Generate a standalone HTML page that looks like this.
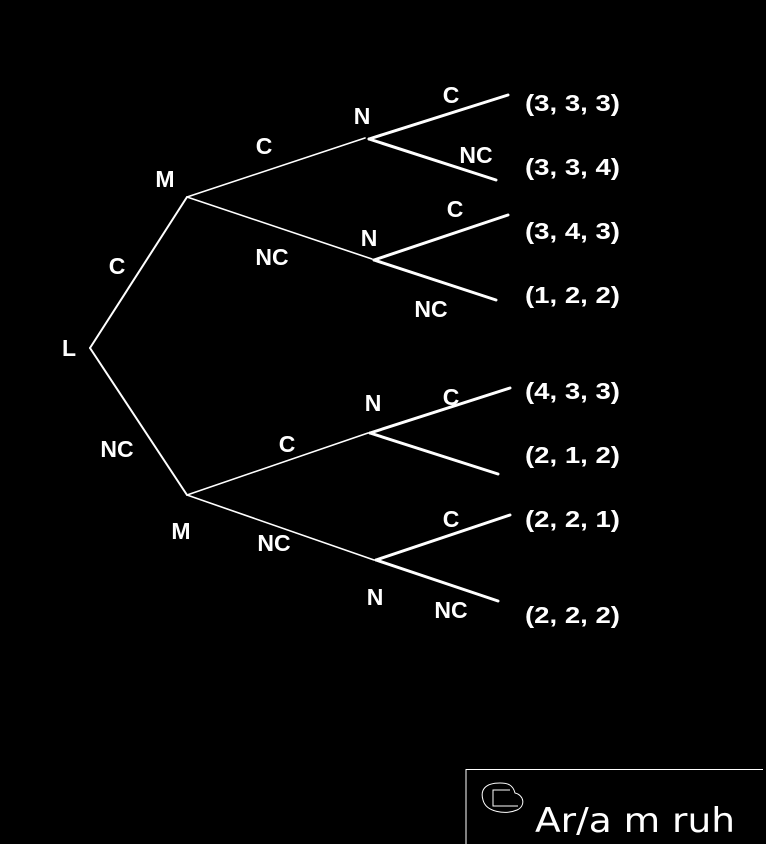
<!DOCTYPE html>
<html><head><meta charset="utf-8"><style>
html,body{margin:0;padding:0;background:#000;}
svg{display:block;}
text{font-family:"Liberation Sans",sans-serif;font-weight:bold;font-size:23px;fill:#fff;}
</style></head><body>
<svg width="766" height="844" viewBox="0 0 766 844">
<rect width="766" height="844" fill="#000"/>
<g stroke="#fff" fill="none" stroke-linecap="round">
<line x1="90" y1="348" x2="187" y2="197" stroke-width="2"/>
<line x1="90" y1="348" x2="187" y2="495" stroke-width="2"/>
<line x1="187" y1="197" x2="365" y2="138" stroke-width="1.6"/>
<line x1="187" y1="197" x2="372" y2="259" stroke-width="1.6"/>
<line x1="187" y1="495" x2="368" y2="433" stroke-width="1.6"/>
<line x1="187" y1="495" x2="374" y2="560" stroke-width="1.6"/>
<g stroke-width="3">
<line x1="369" y1="139" x2="508" y2="95"/>
<line x1="369" y1="139" x2="496" y2="180"/>
<line x1="374" y1="260" x2="508" y2="215"/>
<line x1="374" y1="260" x2="496" y2="300"/>
<line x1="370" y1="433" x2="510" y2="388"/>
<line x1="370" y1="433" x2="498" y2="474"/>
<line x1="376" y1="560" x2="510" y2="515"/>
<line x1="376" y1="560" x2="498" y2="601"/>
</g>
</g>
<g text-anchor="middle" dominant-baseline="central" style="font-size:24px">
<text x="69" y="348">L</text>
<text x="165" y="179">M</text>
<text x="181" y="531">M</text>
<text x="117" y="266">C</text>
<text x="117" y="449">NC</text>
<text x="264" y="146">C</text>
<text x="272" y="257">NC</text>
<text x="287" y="444">C</text>
<text x="274" y="543">NC</text>
<text x="362" y="116">N</text>
<text x="369" y="238">N</text>
<text x="373" y="403">N</text>
<text x="375" y="597">N</text>
<text x="451" y="95">C</text>
<text x="476" y="155">NC</text>
<text x="455" y="209">C</text>
<text x="431" y="309">NC</text>
<text x="451" y="397">C</text>
<text x="451" y="519">C</text>
<text x="451" y="610">NC</text>
</g>
<g dominant-baseline="central" style="font-size:27px">
<text x="525" y="103" textLength="95" lengthAdjust="spacingAndGlyphs">(3, 3, 3)</text>
<text x="525" y="167" textLength="95" lengthAdjust="spacingAndGlyphs">(3, 3, 4)</text>
<text x="525" y="231" textLength="95" lengthAdjust="spacingAndGlyphs">(3, 4, 3)</text>
<text x="525" y="295" textLength="95" lengthAdjust="spacingAndGlyphs">(1, 2, 2)</text>
<text x="525" y="391" textLength="95" lengthAdjust="spacingAndGlyphs">(4, 3, 3)</text>
<text x="525" y="455" textLength="95" lengthAdjust="spacingAndGlyphs">(2, 1, 2)</text>
<text x="525" y="519" textLength="95" lengthAdjust="spacingAndGlyphs">(2, 2, 1)</text>
<text x="525" y="615" textLength="95" lengthAdjust="spacingAndGlyphs">(2, 2, 2)</text>
</g>
<g>
<path d="M466 844 V769.5 H763" stroke="#fff" stroke-width="1" fill="none"/>
<path d="M500 783 C485 783 480 790 483 800 C486 812 505 815 517 810 C526 806 524 795 515 793 C513 785 508 783 500 783 Z" stroke="#fff" fill="none" stroke-width="1"/>
<path d="M510 790 H493 V806 H518" stroke="#fff" fill="none" stroke-width="1"/>
<text x="535" y="832" textLength="200" lengthAdjust="spacingAndGlyphs" style="font-weight:normal;font-size:34px;font-family:'DejaVu Sans',sans-serif" fill="#ddd">Ar/a m ruh</text>
</g>
</svg>
</body></html>
